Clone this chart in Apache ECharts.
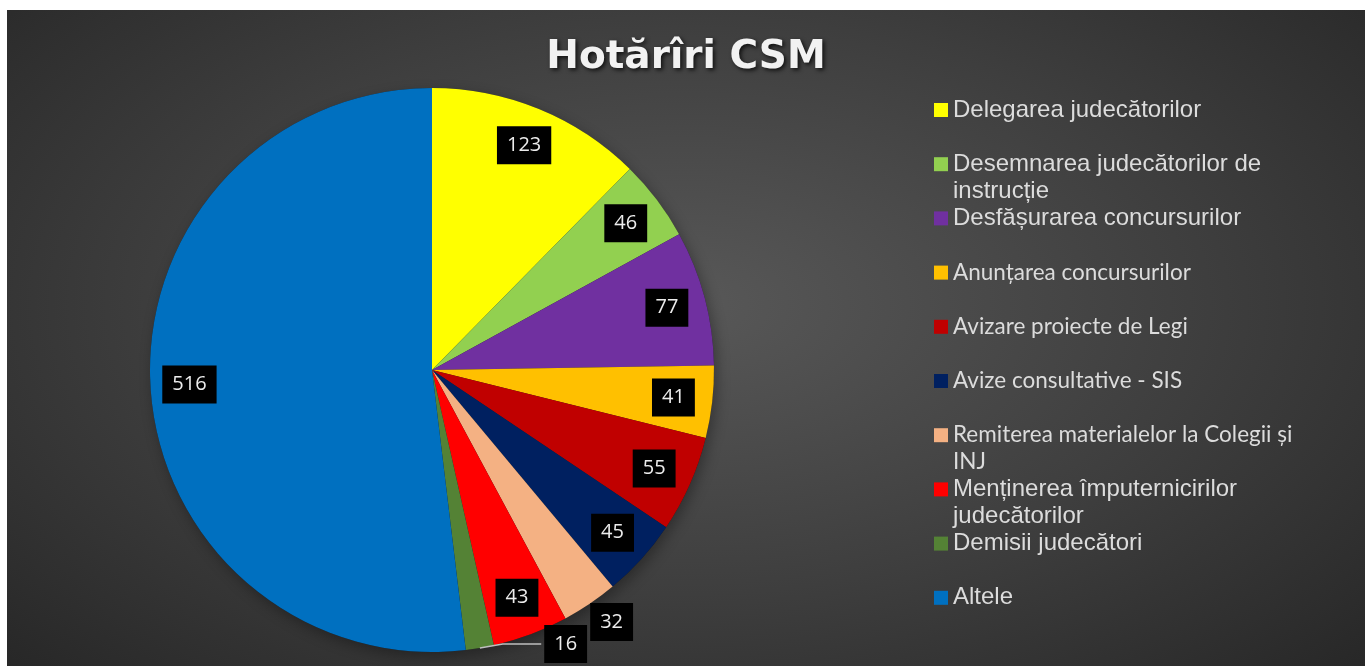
<!DOCTYPE html>
<html>
<head>
<meta charset="utf-8">
<script src="https://cdn.jsdelivr.net/npm/echarts@6.0.0/dist/echarts.min.js"></script>
<style>
  html, body { margin: 0; padding: 0; background: #fff; }
  #chart {
    position: absolute; left: 7px; top: 10px; width: 1358px; height: 656px;
    background: radial-gradient(ellipse 70% 80% at 50% 45%, #585858 0%, #3e3e3e 55%, #272727 100%);
  }
</style>
</head>
<body>
<div id="chart"></div>
<script>
var categories = [
  'Delegarea judecătorilor',
  'Desemnarea judecătorilor de instrucție',
  'Desfășurarea concursurilor',
  'Anunțarea concursurilor',
  'Avizare proiecte de Legi',
  'Avize consultative - SIS',
  'Remiterea materialelor la Colegii și INJ',
  'Menținerea împuternicirilor judecătorilor',
  'Demisii judecători',
  'Altele'
];
var values = [123, 46, 77, 41, 55, 45, 32, 43, 16, 516];
// legend text, as it wraps in the picture
var legendLines = [
  ['Delegarea judecătorilor'],
  ['Desemnarea judecătorilor de', 'instrucție'],
  ['Desfășurarea concursurilor'],
  ['Anunțarea concursurilor'],
  ['Avizare proiecte de Legi'],
  ['Avize consultative - SIS'],
  ['Remiterea materialelor la Colegii și', 'INJ'],
  ['Menținerea împuternicirilor', 'judecătorilor'],
  ['Demisii judecători'],
  ['Altele']
];
var colors = ['#FFFF00', '#92D050', '#7030A0', '#FFC000', '#C00000',
              '#002060', '#F4B183', '#FF0000', '#548235', '#0070C0'];

(function() {
  var chart = echarts.init(document.getElementById('chart'), null, { renderer: 'canvas' });
  var center = [425, 360];
  var R = 282;
  var lh = 27;
  var calibriLike = [3, 4, 5, 6];

  // every legend entry is 3 lines tall (blank, line 1, line 2 or blank) so the
  // first line stays level with its icon and the entries sit on a regular grid
  var legendData = categories.map(function(name, i) {
    var item = { name: name };
    if (calibriLike.indexOf(i) >= 0) {
      item.textStyle = { fontFamily: 'Lato', fontSize: 22.5 };
    }
    return item;
  });

  var labelData = categories.map(function(name, i) {
    var item = { name: name, value: values[i] };
    if (values[i] === 32) {
      item.label = { position: 'outside', distanceToLabelLine: -12 };
      item.labelLine = { show: false, length: 22, length2: 0 };
    } else if (values[i] === 16) {
      item.label = { position: 'outside', distanceToLabelLine: 3 };
      item.labelLine = { show: true, length: -4, length2: 62 };
    }
    return item;
  });

  var pieData = categories.map(function(name, i) {
    return { name: name, value: values[i] };
  });

  chart.setOption({
    animation: false,
    color: colors,
    title: {
      text: 'Hotărîri CSM',
      left: 'center',
      top: 23,
      textStyle: {
        color: '#f2f2f2',
        fontFamily: 'DejaVu Sans',
        fontWeight: 'bold',
        fontSize: 39,
        textShadowColor: 'rgba(0,0,0,0.75)',
        textShadowBlur: 4,
        textShadowOffsetX: 2,
        textShadowOffsetY: 2
      }
    },
    legend: {
      orient: 'vertical',
      left: 927,
      top: 59.5,
      padding: 0,
      itemGap: -26.8,
      itemWidth: 14,
      itemHeight: 14,
      icon: 'rect',
      selectedMode: false,
      data: legendData,
      formatter: function(name) {
        var l = legendLines[categories.indexOf(name)];
        return '\n' + l[0] + '\n' + (l[1] || ' ');
      },
      textStyle: {
        color: '#dcdcdc',
        fontFamily: 'Liberation Sans',
        fontSize: 24,
        lineHeight: lh
      }
    },
    series: [
      {
        type: 'pie',
        name: 'main',
        center: center,
        radius: R,
        z: 3,
        silent: true,
        label: { show: false },
        labelLine: { show: false },
        data: pieData
      },
      {
        type: 'pie',
        name: 'shadow',
        center: center,
        radius: R,
        z: 2,
        silent: true,
        label: { show: false },
        labelLine: { show: false },
        itemStyle: {
          color: 'rgba(0,0,0,0.55)',
          shadowColor: 'rgba(0,0,0,0.6)',
          shadowBlur: 14,
          shadowOffsetX: 3,
          shadowOffsetY: 5
        },
        data: pieData
      },
      {
        type: 'pie',
        name: 'labels',
        center: center,
        radius: [198, R],
        z: 4,
        silent: true,
        avoidLabelOverlap: false,
        itemStyle: { color: 'rgba(0,0,0,0)' },
        label: {
          show: true,
          position: 'inside',
          formatter: '{c}',
          color: '#ececec',
          backgroundColor: '#000',
          fontFamily: 'Open Sans',
          fontSize: 20,
          lineHeight: 20,
          padding: [9, 10]
        },
        labelLine: {
          lineStyle: { color: '#bfbfbf', width: 1.5 }
        },
        data: labelData
      }
    ]
  });
  window.addEventListener('resize', function() { chart.resize(); });
})();
</script>
</body>
</html>
